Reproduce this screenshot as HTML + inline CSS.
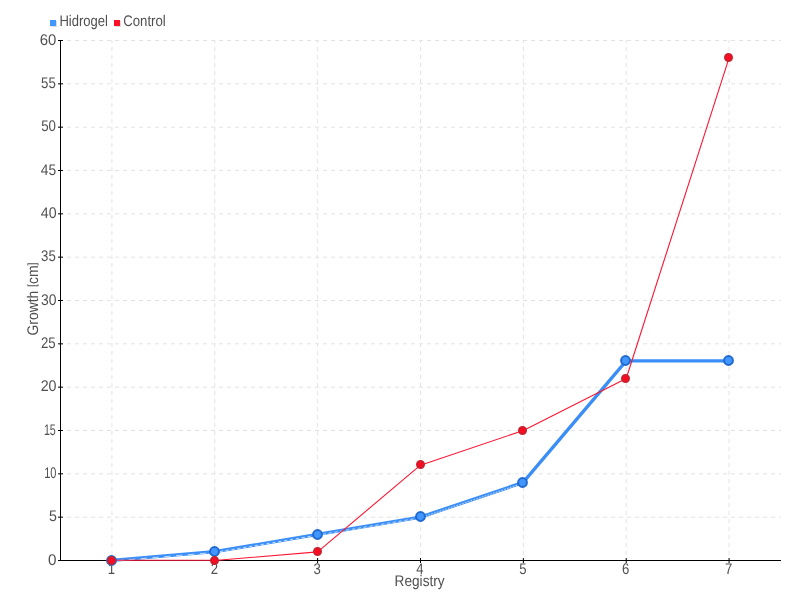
<!DOCTYPE html>
<html lang="en"><head><meta charset="utf-8"><title>Growth chart</title>
<style>
html,body{margin:0;padding:0;background:#fff;}
body{width:800px;height:600px;overflow:hidden;font-family:"Liberation Sans",sans-serif;}
svg{display:block;will-change:transform;}
svg text{font-family:"Liberation Sans",sans-serif;font-size:15.4px;fill:#505050;text-rendering:geometricPrecision;}
</style></head><body>
<svg width="800" height="600" viewBox="0 0 800 600">
<rect x="0" y="0" width="800" height="600" fill="#ffffff"/>
<g stroke="#e3e3e3" stroke-width="1" stroke-dasharray="4 4" fill="none">
<line x1="59" y1="517.17" x2="781" y2="517.17"/>
<line x1="59" y1="473.83" x2="781" y2="473.83"/>
<line x1="59" y1="430.50" x2="781" y2="430.50"/>
<line x1="59" y1="387.17" x2="781" y2="387.17"/>
<line x1="59" y1="343.83" x2="781" y2="343.83"/>
<line x1="59" y1="300.50" x2="781" y2="300.50"/>
<line x1="59" y1="257.17" x2="781" y2="257.17"/>
<line x1="59" y1="213.83" x2="781" y2="213.83"/>
<line x1="59" y1="170.50" x2="781" y2="170.50"/>
<line x1="59" y1="127.17" x2="781" y2="127.17"/>
<line x1="59" y1="83.83" x2="781" y2="83.83"/>
<line x1="59" y1="40.50" x2="781" y2="40.50"/>
</g>
<g stroke="#e3e3e3" stroke-width="1" stroke-dasharray="4 4" fill="none">
<line x1="111.93" y1="40" x2="111.93" y2="560" stroke-dashoffset="1"/>
<line x1="214.79" y1="40" x2="214.79" y2="560" stroke-dashoffset="1"/>
<line x1="317.64" y1="40" x2="317.64" y2="560" stroke-dashoffset="1"/>
<line x1="420.50" y1="40" x2="420.50" y2="560" stroke-dashoffset="1"/>
<line x1="523.36" y1="40" x2="523.36" y2="560" stroke-dashoffset="1"/>
<line x1="626.21" y1="40" x2="626.21" y2="560" stroke-dashoffset="1"/>
<line x1="729.07" y1="40" x2="729.07" y2="560" stroke-dashoffset="1"/>
</g>
<g stroke="#000" stroke-width="1" fill="none">
<line x1="60.5" y1="40" x2="60.5" y2="561"/>
<line x1="58" y1="560.5" x2="781" y2="560.5"/>
<line x1="58" y1="517.17" x2="63" y2="517.17"/>
<line x1="58" y1="473.83" x2="63" y2="473.83"/>
<line x1="58" y1="430.50" x2="63" y2="430.50"/>
<line x1="58" y1="387.17" x2="63" y2="387.17"/>
<line x1="58" y1="343.83" x2="63" y2="343.83"/>
<line x1="58" y1="300.50" x2="63" y2="300.50"/>
<line x1="58" y1="257.17" x2="63" y2="257.17"/>
<line x1="58" y1="213.83" x2="63" y2="213.83"/>
<line x1="58" y1="170.50" x2="63" y2="170.50"/>
<line x1="58" y1="127.17" x2="63" y2="127.17"/>
<line x1="58" y1="83.83" x2="63" y2="83.83"/>
<line x1="58" y1="40.50" x2="63" y2="40.50"/>
<line x1="111.93" y1="558" x2="111.93" y2="563"/>
<line x1="214.79" y1="558" x2="214.79" y2="563"/>
<line x1="317.64" y1="558" x2="317.64" y2="563"/>
<line x1="420.50" y1="558" x2="420.50" y2="563"/>
<line x1="523.36" y1="558" x2="523.36" y2="563"/>
<line x1="626.21" y1="558" x2="626.21" y2="563"/>
<line x1="729.07" y1="558" x2="729.07" y2="563"/>
</g>
<text transform="translate(48.1 565) scale(1 1)" text-anchor="start" textLength="8.49" lengthAdjust="spacingAndGlyphs">0</text>
<text transform="translate(48.93 521) scale(1 1)" text-anchor="start" textLength="7.92" lengthAdjust="spacingAndGlyphs">5</text>
<text transform="translate(44.16 478) scale(1 1)" text-anchor="start" textLength="12.27" lengthAdjust="spacingAndGlyphs">10</text>
<text transform="translate(43.88 435) scale(1 1)" text-anchor="start" textLength="11.96" lengthAdjust="spacingAndGlyphs">15</text>
<text transform="translate(40.69 391) scale(1 1)" text-anchor="start" textLength="15.87" lengthAdjust="spacingAndGlyphs">20</text>
<text transform="translate(40.94 348) scale(1 1)" text-anchor="start" textLength="14.71" lengthAdjust="spacingAndGlyphs">25</text>
<text transform="translate(41.07 305) scale(1 1)" text-anchor="start" textLength="15.48" lengthAdjust="spacingAndGlyphs">30</text>
<text transform="translate(41.09 261) scale(1 1)" text-anchor="start" textLength="14.71" lengthAdjust="spacingAndGlyphs">35</text>
<text transform="translate(40.78 218) scale(1 1)" text-anchor="start" textLength="15.78" lengthAdjust="spacingAndGlyphs">40</text>
<text transform="translate(40.79 175) scale(1 1)" text-anchor="start" textLength="15.39" lengthAdjust="spacingAndGlyphs">45</text>
<text transform="translate(41.21 131) scale(1 1)" text-anchor="start" textLength="14.81" lengthAdjust="spacingAndGlyphs">50</text>
<text transform="translate(41.07 88) scale(1 1)" text-anchor="start" textLength="14.73" lengthAdjust="spacingAndGlyphs">55</text>
<text transform="translate(39.74 45) scale(1 1)" text-anchor="start" textLength="16.59" lengthAdjust="spacingAndGlyphs">60</text>
<text transform="translate(111.4 574) scale(1 1)" text-anchor="middle" textLength="7.3" lengthAdjust="spacingAndGlyphs">1</text>
<text transform="translate(214.3 574) scale(1 1)" text-anchor="middle" textLength="7.3" lengthAdjust="spacingAndGlyphs">2</text>
<text transform="translate(317.1 574) scale(1 1)" text-anchor="middle" textLength="7.3" lengthAdjust="spacingAndGlyphs">3</text>
<text transform="translate(420.0 574) scale(1 1)" text-anchor="middle" textLength="7.3" lengthAdjust="spacingAndGlyphs">4</text>
<text transform="translate(522.9 574) scale(1 1)" text-anchor="middle" textLength="7.3" lengthAdjust="spacingAndGlyphs">5</text>
<text transform="translate(625.7 574) scale(1 1)" text-anchor="middle" textLength="7.3" lengthAdjust="spacingAndGlyphs">6</text>
<text transform="translate(728.6 574) scale(1 1)" text-anchor="middle" textLength="7.3" lengthAdjust="spacingAndGlyphs">7</text>
<text transform="translate(419.6 586) scale(1 1)" text-anchor="middle" textLength="50" lengthAdjust="spacingAndGlyphs">Registry</text>
<text transform="translate(38 299) rotate(-90) scale(1 1)" text-anchor="middle" textLength="73" lengthAdjust="spacingAndGlyphs">Growth <tspan font-size="11.8" dy="-2.2">[</tspan><tspan dy="2.2">cm</tspan><tspan font-size="11.8" dy="-2.2">]</tspan></text>
<rect x="51" y="21" width="6" height="6" fill="#dcdcdc"/>
<rect x="50" y="20" width="6" height="6" fill="#4297ff"/>
<text transform="translate(59.4 26) scale(1 1)" text-anchor="start" textLength="48.6" lengthAdjust="spacingAndGlyphs">Hidrogel</text>
<rect x="115" y="21" width="6" height="6" fill="#dcdcdc"/>
<rect x="114" y="20" width="6" height="6" fill="#fd0f27"/>
<text transform="translate(123.2 26) scale(1 1)" text-anchor="start" textLength="42.6" lengthAdjust="spacingAndGlyphs">Control</text>
<polyline points="111.93,560.40 214.79,551.73 317.64,534.40 420.50,517.07 523.36,482.40" fill="none" stroke="#3a8ef5" stroke-width="3.3" stroke-linejoin="round" stroke-linecap="round"/>
<line x1="116.93" y1="560.68" x2="209.79" y2="552.85" stroke="#ffffff" stroke-opacity="0.85" stroke-width="0.8" stroke-dasharray="6.53 5.34"/>
<line x1="219.79" y1="551.59" x2="312.64" y2="535.94" stroke="#ffffff" stroke-opacity="0.85" stroke-width="0.8" stroke-dasharray="3.26 2.67"/>
<line x1="322.64" y1="534.26" x2="415.50" y2="518.61" stroke="#ffffff" stroke-opacity="0.85" stroke-width="0.8" stroke-dasharray="3.26 2.67"/>
<line x1="425.50" y1="516.08" x2="518.36" y2="484.79" stroke="#ffffff" stroke-opacity="0.85" stroke-width="0.8" stroke-dasharray="1.63 1.34"/>
<polyline points="523.36,482.15 626.21,360.82 729.07,360.82" fill="none" stroke="#3a8ef5" stroke-width="3.3" stroke-linejoin="round" stroke-linecap="round"/>
<polyline points="214.79,560.50 317.64,551.83 420.50,465.17 523.36,430.50 626.21,378.50 729.07,57.83" fill="none" stroke="#fb1633" stroke-width="1.1" stroke-linejoin="round"/>
<line x1="111.93" y1="560.27" x2="214.79" y2="560.27" stroke="#fb1633" stroke-width="1"/>
<circle cx="111.5" cy="560.5" r="4.4" fill="#4297ff" stroke="#1f69d0" stroke-width="2"/>
<circle cx="214.5" cy="551.5" r="4.4" fill="#4297ff" stroke="#1f69d0" stroke-width="2"/>
<circle cx="317.5" cy="534.5" r="4.4" fill="#4297ff" stroke="#1f69d0" stroke-width="2"/>
<circle cx="420.5" cy="516.5" r="4.4" fill="#4297ff" stroke="#1f69d0" stroke-width="2"/>
<circle cx="522.5" cy="482.5" r="4.4" fill="#4297ff" stroke="#1f69d0" stroke-width="2"/>
<circle cx="625.5" cy="360.5" r="4.4" fill="#4297ff" stroke="#1f69d0" stroke-width="2"/>
<circle cx="728.5" cy="360.5" r="4.4" fill="#4297ff" stroke="#1f69d0" stroke-width="2"/>
<circle cx="111.5" cy="560.5" r="3.5" fill="#ff0a22" stroke="#cb1f2d" stroke-width="2"/>
<circle cx="214.5" cy="560.5" r="3.5" fill="#ff0a22" stroke="#cb1f2d" stroke-width="2"/>
<circle cx="317.5" cy="551.5" r="3.5" fill="#ff0a22" stroke="#cb1f2d" stroke-width="2"/>
<circle cx="420.5" cy="464.5" r="3.5" fill="#ff0a22" stroke="#cb1f2d" stroke-width="2"/>
<circle cx="522.5" cy="430.5" r="3.5" fill="#ff0a22" stroke="#cb1f2d" stroke-width="2"/>
<circle cx="625.5" cy="378.5" r="3.5" fill="#ff0a22" stroke="#cb1f2d" stroke-width="2"/>
<circle cx="728.5" cy="57.5" r="3.5" fill="#ff0a22" stroke="#cb1f2d" stroke-width="2"/>
</svg>
</body></html>
